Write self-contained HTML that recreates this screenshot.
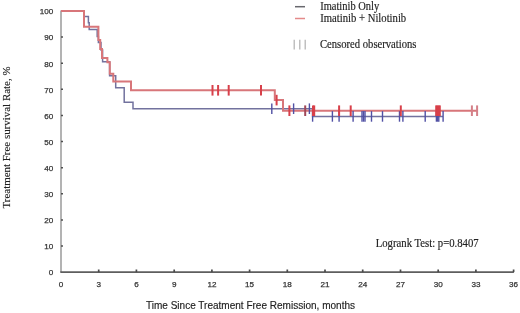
<!DOCTYPE html>
<html><head><meta charset="utf-8"><style>
html,body{margin:0;padding:0;background:#fff;}
body{width:520px;height:313px;overflow:hidden;}
svg{display:block;filter:blur(0.45px);}
.tk{font-family:"Liberation Sans",sans-serif;font-size:8.1px;fill:#333;stroke:#333;stroke-width:0.25px;}
.lg{font-family:"Liberation Serif",serif;font-size:11px;fill:#222;stroke:#222;stroke-width:0.15px;}
.xt{font-family:"Liberation Sans",sans-serif;font-size:10.1px;fill:#222;stroke:#222;stroke-width:0.15px;}
.yt{font-family:"Liberation Serif",serif;font-size:10.9px;fill:#222;stroke:#222;stroke-width:0.15px;}
</style></head><body>
<svg width="520" height="313" viewBox="0 0 520 313">
<line x1="61.0" y1="10.5" x2="61.0" y2="272.1" stroke="#9a9a9a" stroke-width="1.5"/>
<line x1="60.3" y1="272.1" x2="513.9" y2="272.1" stroke="#5e5e5e" stroke-width="1.6"/>
<line x1="61.0" y1="246.0" x2="63.0" y2="246.0" stroke="#505050" stroke-width="1.5"/>
<line x1="61.0" y1="219.9" x2="63.0" y2="219.9" stroke="#505050" stroke-width="1.5"/>
<line x1="61.0" y1="193.8" x2="63.0" y2="193.8" stroke="#505050" stroke-width="1.5"/>
<line x1="61.0" y1="167.7" x2="63.0" y2="167.7" stroke="#505050" stroke-width="1.5"/>
<line x1="61.0" y1="141.6" x2="63.0" y2="141.6" stroke="#505050" stroke-width="1.5"/>
<line x1="61.0" y1="115.4" x2="63.0" y2="115.4" stroke="#505050" stroke-width="1.5"/>
<line x1="61.0" y1="89.3" x2="63.0" y2="89.3" stroke="#505050" stroke-width="1.5"/>
<line x1="61.0" y1="63.2" x2="63.0" y2="63.2" stroke="#505050" stroke-width="1.5"/>
<line x1="61.0" y1="37.1" x2="63.0" y2="37.1" stroke="#505050" stroke-width="1.5"/>
<line x1="61.0" y1="11.0" x2="63.0" y2="11.0" stroke="#505050" stroke-width="1.5"/>
<line x1="98.7" y1="272.1" x2="98.7" y2="269.5" stroke="#4a4a4a" stroke-width="1.7"/>
<line x1="136.4" y1="272.1" x2="136.4" y2="269.5" stroke="#4a4a4a" stroke-width="1.7"/>
<line x1="174.2" y1="272.1" x2="174.2" y2="269.5" stroke="#4a4a4a" stroke-width="1.7"/>
<line x1="211.9" y1="272.1" x2="211.9" y2="269.5" stroke="#4a4a4a" stroke-width="1.7"/>
<line x1="249.6" y1="272.1" x2="249.6" y2="269.5" stroke="#4a4a4a" stroke-width="1.7"/>
<line x1="287.3" y1="272.1" x2="287.3" y2="269.5" stroke="#4a4a4a" stroke-width="1.7"/>
<line x1="325.0" y1="272.1" x2="325.0" y2="269.5" stroke="#4a4a4a" stroke-width="1.7"/>
<line x1="362.7" y1="272.1" x2="362.7" y2="269.5" stroke="#4a4a4a" stroke-width="1.7"/>
<line x1="400.5" y1="272.1" x2="400.5" y2="269.5" stroke="#4a4a4a" stroke-width="1.7"/>
<line x1="438.2" y1="272.1" x2="438.2" y2="269.5" stroke="#4a4a4a" stroke-width="1.7"/>
<line x1="475.9" y1="272.1" x2="475.9" y2="269.5" stroke="#4a4a4a" stroke-width="1.7"/>
<line x1="513.6" y1="272.1" x2="513.6" y2="269.5" stroke="#4a4a4a" stroke-width="1.7"/>
<text x="53.3" y="275.4" class="tk" text-anchor="end">0</text>
<text x="53.3" y="249.3" class="tk" text-anchor="end">10</text>
<text x="53.3" y="223.2" class="tk" text-anchor="end">20</text>
<text x="53.3" y="197.1" class="tk" text-anchor="end">30</text>
<text x="53.3" y="171.0" class="tk" text-anchor="end">40</text>
<text x="53.3" y="144.9" class="tk" text-anchor="end">50</text>
<text x="53.3" y="118.7" class="tk" text-anchor="end">60</text>
<text x="53.3" y="92.6" class="tk" text-anchor="end">70</text>
<text x="53.3" y="66.5" class="tk" text-anchor="end">80</text>
<text x="53.3" y="40.4" class="tk" text-anchor="end">90</text>
<text x="53.3" y="14.3" class="tk" text-anchor="end">100</text>
<text x="61.0" y="287" class="tk" text-anchor="middle">0</text>
<text x="98.7" y="287" class="tk" text-anchor="middle">3</text>
<text x="136.4" y="287" class="tk" text-anchor="middle">6</text>
<text x="174.2" y="287" class="tk" text-anchor="middle">9</text>
<text x="211.9" y="287" class="tk" text-anchor="middle">12</text>
<text x="249.6" y="287" class="tk" text-anchor="middle">15</text>
<text x="287.3" y="287" class="tk" text-anchor="middle">18</text>
<text x="325.0" y="287" class="tk" text-anchor="middle">21</text>
<text x="362.7" y="287" class="tk" text-anchor="middle">24</text>
<text x="400.5" y="287" class="tk" text-anchor="middle">27</text>
<text x="438.2" y="287" class="tk" text-anchor="middle">30</text>
<text x="475.9" y="287" class="tk" text-anchor="middle">33</text>
<text x="513.6" y="287" class="tk" text-anchor="middle">36</text>
<polyline points="61.0,11.0 84.0,11.0 84.0,16.4 88.4,16.4 88.4,22.8 89.2,22.8 89.2,29.4 97.2,29.4 97.2,36.6 98.4,36.6 98.4,42.6 101.0,42.6 101.0,50.0 102.6,50.0 102.6,61.8 109.6,61.8 109.6,75.8 115.7,75.8 115.7,87.7 124.2,87.7 124.2,102.2 133.0,102.2 133.0,108.7 312.6,108.7 312.6,116.4 443.0,116.4" fill="none" stroke="#72729e" stroke-width="1.5"/>
<polyline points="61.0,11.0 84.0,11.0 84.0,26.8 98.4,26.8 98.4,40.0 100.2,40.0 100.2,49.0 102.0,49.0 102.0,58.0 107.4,58.0 107.4,62.2 109.8,62.2 109.8,73.8 113.3,73.8 113.3,81.5 131.0,81.5 131.0,90.3 274.8,90.3 274.8,100.1 283.0,100.1 283.0,110.7 477.7,110.7" fill="none" stroke="#d8767a" stroke-width="2"/>
<line x1="271.8" y1="103.4" x2="271.8" y2="114.0" stroke="#5050a4" stroke-width="1.4"/>
<line x1="293.6" y1="103.4" x2="293.6" y2="114.0" stroke="#5050a4" stroke-width="1.4"/>
<line x1="309.4" y1="103.4" x2="309.4" y2="114.0" stroke="#5050a4" stroke-width="1.4"/>
<line x1="312.6" y1="111.1" x2="312.6" y2="121.7" stroke="#5050a4" stroke-width="1.4"/>
<line x1="332.4" y1="111.1" x2="332.4" y2="121.7" stroke="#5050a4" stroke-width="1.4"/>
<line x1="339.1" y1="111.1" x2="339.1" y2="121.7" stroke="#5050a4" stroke-width="1.4"/>
<line x1="353.1" y1="111.1" x2="353.1" y2="121.7" stroke="#5050a4" stroke-width="1.4"/>
<line x1="362" y1="111.1" x2="362" y2="121.7" stroke="#5050a4" stroke-width="1.4"/>
<line x1="363.5" y1="111.1" x2="363.5" y2="121.7" stroke="#5050a4" stroke-width="1.4"/>
<line x1="365" y1="111.1" x2="365" y2="121.7" stroke="#5050a4" stroke-width="1.4"/>
<line x1="371.5" y1="111.1" x2="371.5" y2="121.7" stroke="#5050a4" stroke-width="1.4"/>
<line x1="382.5" y1="111.1" x2="382.5" y2="121.7" stroke="#5050a4" stroke-width="1.4"/>
<line x1="399.5" y1="111.1" x2="399.5" y2="121.7" stroke="#5050a4" stroke-width="1.4"/>
<line x1="402.9" y1="111.1" x2="402.9" y2="121.7" stroke="#5050a4" stroke-width="1.4"/>
<line x1="425.2" y1="111.1" x2="425.2" y2="121.7" stroke="#5050a4" stroke-width="1.4"/>
<line x1="436.4" y1="111.1" x2="436.4" y2="121.7" stroke="#5050a4" stroke-width="1.4"/>
<line x1="437.6" y1="111.1" x2="437.6" y2="121.7" stroke="#5050a4" stroke-width="1.4"/>
<line x1="438.8" y1="111.1" x2="438.8" y2="121.7" stroke="#5050a4" stroke-width="1.4"/>
<line x1="443.1" y1="111.1" x2="443.1" y2="121.7" stroke="#5050a4" stroke-width="1.4"/>
<line x1="212.5" y1="85.0" x2="212.5" y2="95.6" stroke="#d8404a" stroke-width="2"/>
<line x1="218.1" y1="85.0" x2="218.1" y2="95.6" stroke="#d8404a" stroke-width="2"/>
<line x1="228.7" y1="85.0" x2="228.7" y2="95.6" stroke="#d8404a" stroke-width="2"/>
<line x1="261" y1="85.0" x2="261" y2="95.6" stroke="#d8404a" stroke-width="2"/>
<line x1="276.6" y1="94.8" x2="276.6" y2="105.4" stroke="#d8404a" stroke-width="2"/>
<line x1="289.4" y1="105.4" x2="289.4" y2="116.0" stroke="#d8404a" stroke-width="2"/>
<line x1="305.2" y1="105.4" x2="305.2" y2="116.0" stroke="#a04858" stroke-width="2"/>
<line x1="313" y1="105.4" x2="313" y2="116.0" stroke="#d8404a" stroke-width="2"/>
<line x1="314.2" y1="105.4" x2="314.2" y2="116.0" stroke="#d8404a" stroke-width="2"/>
<line x1="339.1" y1="105.4" x2="339.1" y2="116.0" stroke="#d8404a" stroke-width="2"/>
<line x1="350.7" y1="105.4" x2="350.7" y2="116.0" stroke="#d8404a" stroke-width="2"/>
<line x1="400.8" y1="105.4" x2="400.8" y2="116.0" stroke="#d8404a" stroke-width="2"/>
<line x1="436.2" y1="105.4" x2="436.2" y2="116.0" stroke="#d8404a" stroke-width="2"/>
<line x1="437.4" y1="105.4" x2="437.4" y2="116.0" stroke="#d8404a" stroke-width="2"/>
<line x1="438.6" y1="105.4" x2="438.6" y2="116.0" stroke="#d8404a" stroke-width="2"/>
<line x1="439.8" y1="105.4" x2="439.8" y2="116.0" stroke="#d8404a" stroke-width="2"/>
<line x1="471.9" y1="105.4" x2="471.9" y2="116.0" stroke="#d48088" stroke-width="2"/>
<line x1="477.1" y1="105.4" x2="477.1" y2="116.0" stroke="#d48088" stroke-width="2"/>
<line x1="295" y1="6.7" x2="305" y2="6.7" stroke="#68686e" stroke-width="1.5"/>
<line x1="295" y1="18.5" x2="305" y2="18.5" stroke="#e48a8a" stroke-width="1.5"/>
<line x1="294.2" y1="39.8" x2="294.2" y2="49.6" stroke="#b0b0b0" stroke-width="1.2"/>
<line x1="299.8" y1="39.8" x2="299.8" y2="49.6" stroke="#b0b0b0" stroke-width="1.2"/>
<line x1="305.2" y1="39.8" x2="305.2" y2="49.6" stroke="#b0b0b0" stroke-width="1.2"/>
<text transform="translate(320.2,9.8) scale(1,1.1)" class="lg" textLength="59" lengthAdjust="spacingAndGlyphs">Imatinib Only</text>
<text transform="translate(320.2,21.9) scale(1,1.1)" class="lg" textLength="86" lengthAdjust="spacingAndGlyphs">Imatinib + Nilotinib</text>
<text transform="translate(320.0,47.9) scale(1,1.1)" class="lg" textLength="96.5" lengthAdjust="spacingAndGlyphs">Censored observations</text>
<text transform="translate(375.7,246.7) scale(1,1.1)" class="lg" textLength="103" lengthAdjust="spacingAndGlyphs">Logrank Test: p=0.8407</text>
<text x="146" y="308.8" class="xt" textLength="209" lengthAdjust="spacingAndGlyphs">Time Since Treatment Free Remission, months</text>
<text transform="translate(10.4,208.5) rotate(-90)" x="0" y="0" class="yt" textLength="142" lengthAdjust="spacingAndGlyphs">Treatment Free survival Rate, %</text>
</svg>
</body></html>
